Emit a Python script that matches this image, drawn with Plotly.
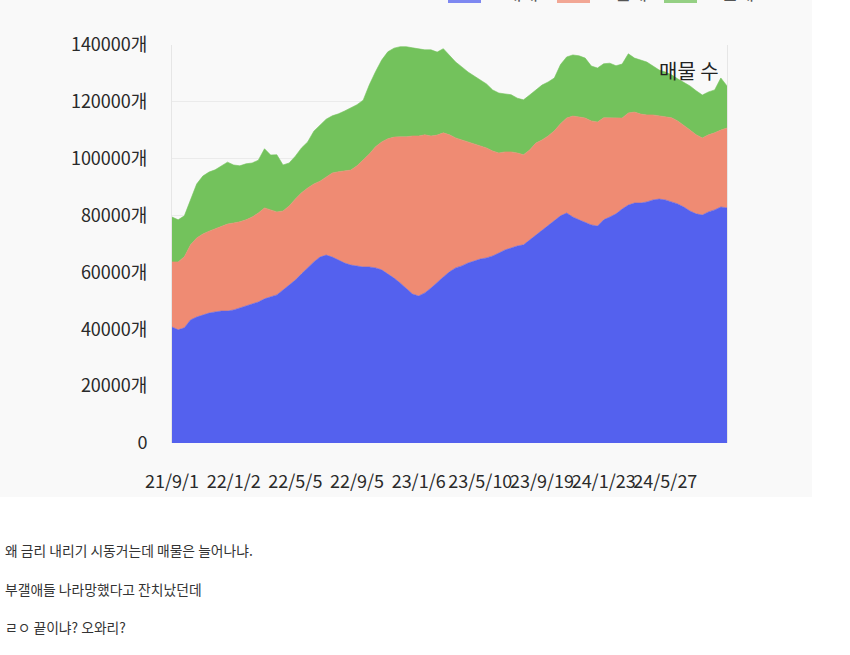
import plotly.graph_objects as go

# ---------------- data ----------------
tick_labels = ["21/9/1", "22/1/2", "22/5/5", "22/9/5", "23/1/6",
               "23/5/10", "23/9/19", "24/1/23", "24/5/27"]

y_tick_values = [0, 20000, 40000, 60000, 80000, 100000, 120000, 140000]
y_tick_labels = ["0", "20000개", "40000개", "60000개", "80000개",
                 "100000개", "120000개", "140000개"]

series_names = ["매매", "전세", "월세"]

sale = [40800, 39800, 40500, 43300, 44300, 45000, 45700, 46100, 46400, 46400,
        46800, 47500, 48200, 48900, 49600, 50700, 51400, 52100, 53800, 55600,
        57300, 59500, 61600, 63700, 65400, 66100, 65400, 64400, 63300, 62600,
        62300, 61900, 61900, 61600, 60900, 59500, 58000, 56300, 54200, 52400,
        51700, 52800, 54500, 56600, 58400, 60200, 61600, 62300, 63300, 64000,
        64700, 65100, 65800, 66800, 67900, 68600, 69300, 69700, 71400, 72800,
        74600, 76300, 78100, 79900, 80900, 79500, 78500, 77700, 76700, 76300,
        78500, 79500, 80600, 82300, 83700, 84400, 84400, 84800, 85500, 85800,
        85500, 84800, 84100, 83000, 81600, 80600, 80200, 81300, 82000, 83000,
        82700]

jeonse = [22900, 23900, 25000, 26400, 27800, 28500, 28800, 29200, 29600, 30600,
          30600, 30300, 30300, 30600, 31300, 32000, 30600, 29200, 27800, 27800,
          28500, 28500, 28100, 27400, 26700, 27400, 29600, 31000, 32400, 33400,
          35200, 37600, 39800, 42600, 45000, 47500, 49600, 51400, 53500, 55600,
          56300, 55600, 53500, 51700, 50700, 48200, 45700, 44300, 42600, 41200,
          39800, 38700, 36900, 35200, 34500, 33800, 32700, 31700, 31700, 32700,
          32000, 31700, 31700, 32400, 33400, 35500, 36200, 36600, 36600, 36600,
          35900, 34800, 33800, 32000, 32400, 32000, 31300, 30600, 29900, 29200,
          29200, 29600, 29200, 28800, 28500, 27800, 27100, 27100, 27100, 27100,
          28100]

monthly = [15800, 14800, 14400, 15800, 19000, 20400, 20800, 20800, 21500, 21800,
           20400, 19700, 19700, 19000, 18600, 20800, 19300, 20100, 16200, 15100,
           15100, 15800, 16200, 18600, 19700, 20400, 20100, 20400, 21100, 21800,
           21500, 21100, 24300, 26400, 28800, 30600, 31300, 31700, 31700, 31000,
           30600, 29900, 30300, 29200, 29600, 28100, 26700, 25700, 24600, 23900,
           23200, 22500, 21500, 21100, 20400, 20100, 19300, 19300, 19300, 18600,
           19300, 19000, 18600, 20800, 21500, 21500, 21500, 21100, 19300, 19000,
           19000, 19300, 18300, 19000, 20800, 19000, 19000, 18600, 17200, 16200,
           15800, 15100, 14800, 15100, 15500, 15500, 15100, 15100, 15100, 18300,
           14800]

chart_label = "매물 수"
post_lines = ["왜 금리 내리기 시동거는데 매물은 늘어나냐.",
              "부갤애들 나라망했다고 잔치났던데",
              "ㄹㅇ 끝이냐? 오와리?"]

# ---------------- figure ----------------
colors = ["#5461EE", "#EF8B73", "#73C25C"]
W, H = 850, 655
L, R, T, B = 172, 123, 45, 212          # plot area 172..727 x 45..443
pw, ph = W - L - R, H - T - B

def px_x(p):
    return (p - L) / pw

def px_y(p):
    return (H - B - p) / ph

point_index = list(range(len(sale)))
tick_positions = [i * 10 for i in range(len(tick_labels))]

fig = go.Figure()
for name, vals, col in zip(series_names, [sale, jeonse, monthly], colors):
    fig.add_trace(go.Scatter(
        x=point_index, y=vals, name=name, mode="lines",
        stackgroup="one", line=dict(width=0.6, color=col),
        fillcolor=col, hoverinfo="skip", showlegend=False))

font_main = "Noto Sans CJK KR, Noto Sans, sans-serif"

annotations = [dict(xref="paper", yref="paper", x=px_x(721), y=px_y(71),
                    xanchor="right", yanchor="middle", text=chart_label,
                    showarrow=False,
                    font=dict(family=font_main, size=20, color="#222222"))]
for k, line in enumerate(post_lines):
    annotations.append(dict(
        xref="paper", yref="paper", x=px_x(3), y=px_y(550 + 38.5 * k),
        xanchor="left", yanchor="middle", text=line, showarrow=False,
        font=dict(family=font_main, size=13.8, color="#333333")))

shapes = [dict(type="rect", xref="paper", yref="paper", layer="below",
               x0=px_x(0), x1=px_x(812), y0=px_y(497), y1=px_y(0),
               fillcolor="#f9f9f9", line=dict(width=0))]

# legend (the top of the original picture is cut off; only its bottom edge shows)
legend_icon_left = [448, 557, 664]
for name, col, x0 in zip(series_names, colors, legend_icon_left):
    shapes.append(dict(type="rect", xref="paper", yref="paper",
                       x0=px_x(x0), x1=px_x(x0 + 33), y0=px_y(3), y1=px_y(-12),
                       fillcolor=col, opacity=0.75, line=dict(width=0)))
    annotations.append(dict(xref="paper", yref="paper", x=px_x(x0 + 55),
                            y=px_y(7), xanchor="left", yanchor="bottom",
                            text=name, showarrow=False,
                            font=dict(family=font_main, size=18,
                                      color="#555555")))

fig.update_layout(
    width=W, height=H,
    margin=dict(l=L, r=R, t=T, b=B, autoexpand=False),
    paper_bgcolor="white", plot_bgcolor="white",
    font=dict(family=font_main, color="#333333"),
    showlegend=False,
    xaxis=dict(range=[0, len(sale) - 1], tickmode="array",
               tickvals=tick_positions, ticktext=tick_labels, tickangle=0,
               showgrid=False, zeroline=False, showline=False,
               ticks="", ticklabelstandoff=26,
               tickfont=dict(size=18, color="#2a2a2a", family=font_main)),
    yaxis=dict(range=[0, 140000], tickmode="array",
               tickvals=y_tick_values, ticktext=y_tick_labels,
               showgrid=True, gridcolor="#ebebeb", gridwidth=1,
               zeroline=False, showline=True, linecolor="#e6e6e6",
               mirror=True, ticks="", ticklabelstandoff=20,
               tickfont=dict(size=18, color="#2a2a2a", family=font_main)),
    annotations=annotations, shapes=shapes,
)

fig.write_html("out.html")
